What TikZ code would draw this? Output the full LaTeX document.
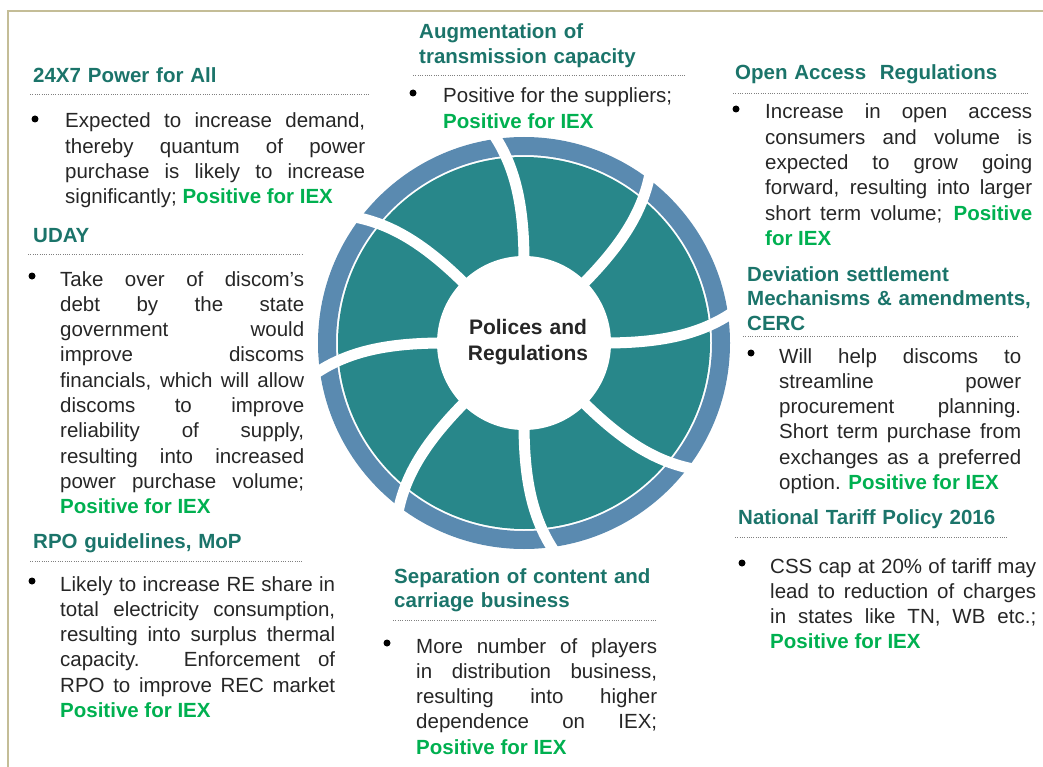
\documentclass[tikz,border=0pt]{standalone}
\usepackage{fontspec}
\setmainfont{Liberation Sans}
\hyphenpenalty=10000
\exhyphenpenalty=10000
\definecolor{headc}{HTML}{1B746A}
\definecolor{iexc}{HTML}{00B050}
\definecolor{bodyc}{HTML}{262626}
\definecolor{wheelc}{HTML}{28878A}
\definecolor{ringc}{HTML}{5A8AB0}
\definecolor{framec}{HTML}{C4BD97}
\newcommand{\iex}[1]{{\bfseries\color{iexc}#1}}
\newcommand{\sepline}[3]{\draw[gray, line width=1, dash pattern=on 1 off 1.3] (#1,#3) -- (#2,#3);}
\tikzset{
  head/.style={anchor=base west, inner sep=0, text width=#1, align=left, text=headc,
    font=\fontsize{20.5}{24.8}\selectfont\bfseries},
  body/.style={anchor=base west, inner sep=0, text width=#1, align=justify, text=bodyc,
    font=\fontsize{20.5}{25.3}\selectfont},
  bullet/.style={circle, fill=black, inner sep=0, minimum size=7}
}

\begin{document}
\begin{tikzpicture}[x=1pt, y=-1pt]
\useasboundingbox (0,0) rectangle (1043,767);
\draw[framec, line width=2.5] (8,767) -- (8,11) -- (1043,11);
\begin{scope}[shift={(524,343)}]
\fill[wheelc] (0,0) circle (186);
\draw[ringc, line width=18] (0,0) circle (197);
\fill[white] (0,0) circle (87);
\foreach \a in {0,45,...,315}
  \draw[white, line width=11] (-\a:80) .. controls (-\a:140) and (-\a-3:180) .. (-\a-9:216);
\end{scope}
\node[inner sep=0, anchor=base, text width=140, align=center, text=bodyc,
  font=\fontsize{21}{26}\selectfont\bfseries] (pr) at (528,334) {Polices and\\Regulations};

\node[head=340] (h1) at (33,83) {24X7 Power for All};
\sepline{30}{370}{95}
\node[bullet] (u1) at (35,119) {};
\node[body=300] (b1) at (65,128) {Expected to increase demand,\linebreak thereby quantum of power\linebreak purchase is likely to increase\linebreak significantly; \iex{Positive for IEX}};

\node[head=270] (h2) at (33,243) {UDAY};
\sepline{28}{302}{254}
\node[bullet] (u2) at (32,276) {};
\node[body=244] (b2) at (60,286) {Take over of discom’s\linebreak debt by the state\linebreak government would\linebreak improve discoms\linebreak financials, which will allow\linebreak discoms to improve\linebreak reliability of supply,\linebreak resulting into increased\linebreak power purchase volume;\linebreak \iex{Positive for IEX}};

\node[head=270] (h3) at (33,548) {RPO guidelines, MoP};
\sepline{30}{302}{561}
\node[bullet] (u3) at (32,581) {};
\node[body=275] (b3) at (60,591) {Likely to increase RE share in\linebreak total electricity consumption,\linebreak resulting into surplus thermal\linebreak capacity. Enforcement of\linebreak RPO to improve REC market\linebreak \iex{Positive for IEX}};

\node[head=280] (h4) at (419,39) {Augmentation of\\transmission capacity};
\sepline{413}{685}{76}
\node[bullet] (u4) at (413,93) {};
\node[body=250] (b4) at (443,103) {Positive for the suppliers;\\\iex{Positive for IEX}};

\node[head=300] (h5) at (735,80) {Open Access~ Regulations};
\sepline{733}{1028}{94}
\node[bullet] (u5) at (736,109) {};
\node[body=267] (b5) at (765,119) {Increase in open access\linebreak consumers and volume is\linebreak expected to grow going\linebreak forward, resulting into larger\linebreak short term volume; \iex{Positive\linebreak for IEX}};

\node[head=290] (h6) at (747,281) {Deviation settlement\\Mechanisms \& amendments,\\CERC};
\sepline{743}{1017}{336}
\node[bullet] (u6) at (751,353) {};
\node[body=242] (b6) at (779,363) {Will help discoms to\linebreak streamline power\linebreak procurement planning.\linebreak Short term purchase from\linebreak exchanges as a preferred\linebreak option. \iex{Positive for IEX}};

\node[head=290] (h7) at (738,524) {National Tariff Policy 2016};
\sepline{735}{1008}{537}
\node[bullet] (u7) at (742,563) {};
\node[body=266] (b7) at (770,573) {CSS cap at 20\% of tariff may\linebreak lead to reduction of charges\linebreak in states like TN, WB etc.;\linebreak \iex{Positive for IEX}};

\node[head=280] (h8) at (394,583) {Separation of content and\\carriage business};
\sepline{393}{657}{620}
\node[bullet] (u8) at (387,643) {};
\node[body=241] (b8) at (416,653) {More number of players\linebreak in distribution business,\linebreak resulting into higher\linebreak dependence on IEX;\linebreak \iex{Positive for IEX}};
\end{tikzpicture}
\end{document}
